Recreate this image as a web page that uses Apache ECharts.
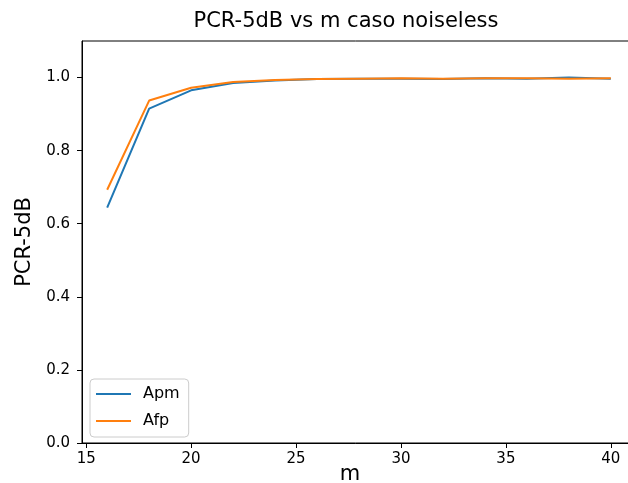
<!DOCTYPE html>
<html>
<head>
<meta charset="utf-8">
<script src="https://cdn.jsdelivr.net/npm/echarts@6/dist/echarts.min.js"></script>
<style>
  html, body { margin: 0; padding: 0; background: #fff; }
  #chart { width: 628px; height: 483px; }
</style>
</head>
<body>
<div id="chart"></div>
<script>
// data
var mValues = [16, 18, 20, 22, 24, 26, 28, 30, 32, 34, 36, 38, 40];
var apm = [0.644, 0.915, 0.965, 0.985, 0.992, 0.996, 0.997, 0.997, 0.996, 0.998, 0.997, 1.0, 0.997];
var afp = [0.693, 0.937, 0.972, 0.988, 0.993, 0.996, 0.997, 0.998, 0.997, 0.998, 0.998, 0.997, 0.998];
var xTicks = [15, 20, 25, 30, 35, 40];
var yTicks = [0, 0.2, 0.4, 0.6, 0.8, 1.0];

function pairs(xs, ys) {
  return xs.map(function (x, i) { return [x, ys[i]]; });
}

var font = 'DejaVu Sans';
var chart = echarts.init(document.getElementById('chart'));

chart.setOption({
  animation: false,
  backgroundColor: '#fff',
  title: {
    text: 'PCR-5dB vs m caso noiseless',
    left: 341,
    textAlign: 'center',
    top: 6,
    textStyle: { fontFamily: font, fontSize: 21, fontWeight: 'normal', color: '#000' }
  },
  legend: {
    orient: 'vertical',
    left: 90,
    top: 379,
    padding: [7, 9, 8, 6],
    icon: 'rect',
    itemWidth: 35,
    itemHeight: 2,
    itemGap: 11,
    borderColor: '#ccc',
    borderWidth: 1,
    borderRadius: 4,
    backgroundColor: 'rgba(255,255,255,0.8)',
    textStyle: { fontFamily: font, fontSize: 16, color: '#000', padding: [0, 0, 0, 7] },
    data: ['Apm', 'Afp']
  },
  grid: {
    left: 82,
    width: 554,
    top: 41,
    height: 402,
    outerBoundsMode: 'none',
    containLabel: false,
    show: true,
    borderColor: '#000',
    borderWidth: 1
  },
  xAxis: {
    type: 'value',
    min: 14.8,
    max: 41.2,
    name: 'm',
    nameLocation: 'middle',
    nameGap: 21,
    nameMoveOverlap: false,
    nameTextStyle: { fontFamily: font, fontSize: 21, color: '#000', padding: [0, 18, 0, 0] },
    axisLine: { lineStyle: { color: '#000', width: 1 } },
    axisTick: { customValues: xTicks, length: 5, lineStyle: { color: '#000' } },
    axisLabel: { customValues: xTicks, fontFamily: font, fontSize: 15, color: '#000', margin: 9 },
    splitLine: { show: false }
  },
  yAxis: {
    type: 'value',
    min: 0,
    max: 1.1,
    name: 'PCR-5dB',
    nameLocation: 'middle',
    nameGap: 47,
    nameMoveOverlap: false,
    nameTextStyle: { fontFamily: font, fontSize: 21, color: '#000' },
    axisLine: { show: true, lineStyle: { color: '#000', width: 1 } },
    axisTick: { show: true, customValues: yTicks, length: 5, lineStyle: { color: '#000' } },
    axisLabel: {
      customValues: yTicks, fontFamily: font, fontSize: 15, color: '#000', margin: 12,
      formatter: function (v) { return v.toFixed(1); }
    },
    splitLine: { show: false }
  },
  series: [
    {
      name: 'Apm',
      type: 'line',
      data: pairs(mValues, apm),
      symbol: 'none',
      color: '#1f77b4',
      lineStyle: { width: 2, color: '#1f77b4' }
    },
    {
      name: 'Afp',
      type: 'line',
      data: pairs(mValues, afp),
      symbol: 'none',
      color: '#ff7f0e',
      lineStyle: { width: 2, color: '#ff7f0e' }
    }
  ]
});
</script>
</body>
</html>
